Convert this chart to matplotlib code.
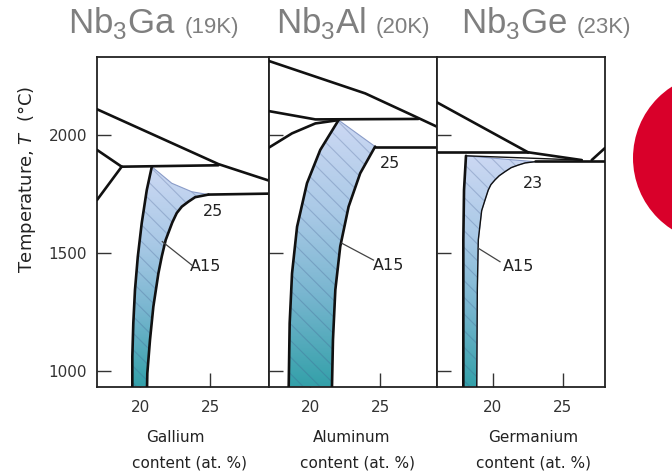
import numpy as np
import matplotlib
matplotlib.use('Agg')
import matplotlib.pyplot as plt
from matplotlib.patches import Polygon, Circle
from matplotlib.colors import LinearSegmentedColormap

plt.rcParams['font.family'] = ['DejaVu Sans']
plt.rcParams['mathtext.fontset'] = 'custom'
plt.rcParams['mathtext.rm'] = 'Liberation Sans'
plt.rcParams['mathtext.it'] = 'DejaVu Sans:italic'
plt.rcParams['hatch.linewidth'] = 0.8

# ---------------- data ----------------
compounds = ['Nb$_3$Ga', 'Nb$_3$Al', 'Nb$_3$Ge']
tc_labels = ['(19K)', '(20K)', '(23K)']
elements = ['Gallium', 'Aluminum', 'Germanium']
tc_values = ['25', '25', '23']
yticks = [1000, 1500, 2000]
xticks = [20, 25]
xlims = [(16.93, 29.2), (17.04, 29.07), (16.0, 28.0)]
ylim = (934, 2330)

# A15 phase field boundaries (composition at.%, temperature C)
ga_left_c = [20.84, 20.48, 20.12, 19.84, 19.64, 19.52, 19.45, 19.45]
ga_left_T = [1866, 1767, 1627, 1485, 1345, 1204, 1063, 934]
ga_right_c = [24.88, 23.93, 23.45, 22.98, 22.62, 22.3, 21.83, 21.55, 21.31, 20.95, 20.71, 20.52, 20.5]
ga_right_T = [1748, 1737, 1718, 1697, 1670, 1630, 1556, 1486, 1415, 1274, 1133, 992, 934]
ga_top_c = [20.84, 22.26, 23.69, 24.88]
ga_top_T = [1866, 1796, 1760, 1748]

al_left_c = [22.02, 20.71, 19.76, 19.05, 18.69, 18.52, 18.45]
al_left_T = [2063, 1937, 1796, 1612, 1415, 1204, 934]
al_right_c = [24.64, 23.57, 22.74, 22.14, 21.79, 21.62, 21.55]
al_right_T = [1951, 1838, 1697, 1528, 1345, 1133, 934]
al_top_c = [22.02, 24.64]
al_top_T = [2063, 1951]

ge_left_c = [18.07, 17.93, 17.88, 17.88, 17.88]
ge_left_T = [1912, 1767, 1556, 1274, 934]
ge_right_c = [23.0, 22.3, 21.81, 21.3, 20.86, 20.45, 20.14, 19.85, 19.66, 19.43, 19.19, 18.95, 18.88, 18.84]
ge_right_T = [1887, 1882, 1873, 1862, 1845, 1828, 1810, 1790, 1767, 1725, 1680, 1556, 1345, 934]
ge_top_c = [18.07, 20.62, 23.0]
ge_top_T = [1912, 1899, 1887]

# other phase boundaries
ga_lines = [
    ([16.93, 25.59, 29.2], [2109, 1877, 1807]),
    ([16.93, 18.69], [1937, 1866]),
    ([18.69, 25.59], [1866, 1872]),
    ([18.69, 16.93], [1866, 1725]),
    ([24.88, 29.2], [1748, 1752]),
]
al_lines = [
    ([17.04, 23.93, 27.26, 29.07], [2313, 2176, 2085, 2035]),
    ([17.04, 20.36, 27.74], [2101, 2066, 2068]),
    ([17.04, 18.69, 20.36, 22.02], [1947, 2007, 2049, 2063]),
    ([24.64, 29.07], [1951, 1951]),
]
ge_lines = [
    ([16.0, 22.5], [2138, 1927]),
    ([16.0, 22.5], [1927, 1927]),
    ([22.5, 26.34], [1927, 1894]),
    ([23.0, 28.0], [1888, 1888]),
    ([27.05, 28.0], [1894, 1945]),
]
ge_thin = [([18.07, 26.34], [1912, 1894])]

tc_pos = [(25.24, 1676), (25.71, 1880), (22.88, 1796)]
a15_pos = [(24.64, 1443), (25.59, 1450), (21.81, 1443)]
leaders = [([21.59, 23.69], [1549, 1450]),
           ([22.26, 24.52], [1542, 1471]),
           ([18.95, 20.5], [1521, 1464])]

fields = [
    (ga_left_c, ga_left_T, ga_right_c, ga_right_T, ga_top_c, ga_top_T, ga_lines, [], 1.9),
    (al_left_c, al_left_T, al_right_c, al_right_T, al_top_c, al_top_T, al_lines, [], 1.9),
    (ge_left_c, ge_left_T, ge_right_c, ge_right_T, ge_top_c, ge_top_T, ge_lines, ge_thin, 1.0),
]

# ---------------- figure ----------------
W, H = 672, 472
fig = plt.figure(figsize=(W / 100, H / 100), dpi=100)
fig.patch.set_facecolor('white')

cmap = LinearSegmentedColormap.from_list(
    'a15', [(0.0, '#33a0a9'), (0.35, '#79b6d0'), (0.65, '#a9c9e6'), (1.0, '#ccd8f3')])

px_left = [97, 269, 437]
px_right = [269, 437, 605]
px_top, px_bot = 57, 387

for i in range(3):
    ax = fig.add_axes([px_left[i] / W, 1 - px_bot / H,
                       (px_right[i] - px_left[i]) / W, (px_bot - px_top) / H])
    ax.set_xlim(*xlims[i])
    ax.set_ylim(*ylim)
    ax.set_axisbelow(True)
    for s in ax.spines.values():
        s.set_linewidth(1.3)
        s.set_color('#222222')
    ax.set_xticks(xticks)
    ax.set_yticks(yticks)
    ax.tick_params(direction='in', length=10, width=1.0, color='#333333',
                   labelsize=11, labelcolor='#333333')
    ax.tick_params(axis='x', pad=9)
    ax.tick_params(axis='y', pad=7)
    if i > 0:
        ax.set_yticklabels([])

    lc, lT, rc, rT, tcc, tT, lines, thin, rlw = fields[i]
    poly_c = list(lc) + list(rc[::-1]) + list(tcc[::-1])
    poly_T = list(lT) + list(rT[::-1]) + list(tT[::-1])
    verts = np.column_stack([poly_c, poly_T])

    clip = Polygon(verts, closed=True, facecolor='none', edgecolor='none',
                   transform=ax.transData)
    ax.add_patch(clip)
    grad = np.linspace(0, 1, 256).reshape(-1, 1)
    im = ax.imshow(grad, cmap=cmap, origin='lower', aspect='auto',
                   extent=(min(poly_c), max(poly_c), ylim[0], max(poly_T)),
                   zorder=1, interpolation='bilinear')
    im.set_clip_path(clip)
    ax.set_xlim(*xlims[i])
    ax.set_ylim(*ylim)

    hatch = Polygon(verts, closed=True, facecolor='none',
                    edgecolor=(0.25, 0.35, 0.55, 0.28), hatch='\\\\', linewidth=0,
                    zorder=1.5)
    ax.add_patch(hatch)
    outline = Polygon(verts, closed=True, fill=False, edgecolor='#8a9cc8',
                      linewidth=0.8, zorder=1.6)
    ax.add_patch(outline)

    ax.plot(lc, lT, color='#111111', lw=1.9, solid_capstyle='round', zorder=3)
    ax.plot(rc, rT, color='#111111', lw=rlw, solid_capstyle='round', zorder=3)
    for xs, ys in lines:
        ax.plot(xs, ys, color='#111111', lw=1.9, solid_capstyle='round', zorder=3)
    for xs, ys in thin:
        ax.plot(xs, ys, color='#111111', lw=1.0, zorder=3)

    ax.text(*tc_pos[i], tc_values[i], fontsize=11.5, ha='center', va='center',
            color='#222222')
    ax.text(*a15_pos[i], 'A15', fontsize=11.5, ha='center', va='center',
            color='#222222')
    ax.plot(*leaders[i], color='#444444', lw=0.9, zorder=3)

# titles (each group centred over its target centre)
renderer = fig.canvas.get_renderer()
title_centres = [154, 353, 546]
gap = 9
for i in range(3):
    t1 = fig.text(0, 1 - 33 / H, compounds[i], fontsize=25,
                  color='#7f7f7f', ha='left', va='baseline', family='Liberation Sans')
    t2 = fig.text(0, 1 - 33 / H, tc_labels[i], fontsize=16,
                  color='#7f7f7f', ha='left', va='baseline', family='Liberation Sans')
    w1 = t1.get_window_extent(renderer).width
    w2 = t2.get_window_extent(renderer).width
    x0 = title_centres[i] - (w1 + gap + w2) / 2
    t1.set_x(x0 / W)
    t2.set_x((x0 + w1 + gap) / W)

# bottom labels
elem_x = [175, 352, 533]
cont_x = [190, 357, 533]
for i in range(3):
    fig.text(elem_x[i] / W, 1 - 438 / H, elements[i], fontsize=11, ha='center',
             va='center', color='#222222')
    fig.text(cont_x[i] / W, 1 - 463 / H, 'content (at. %)', fontsize=11,
             ha='center', va='center', color='#222222')

# y label
fig.text(27 / W, 1 - 179 / H, 'Temperature, $\\it{T}$  (°C)', rotation=90,
         fontsize=13, ha='center', va='center', color='#222222')

# decorative red circle at the right edge
ov = fig.add_axes([0, 0, 1, 1], zorder=-1)
ov.set_xlim(0, W)
ov.set_ylim(H, 0)
ov.axis('off')
ov.add_patch(Circle((718, 158), 85, facecolor='#d9002a', edgecolor='none'))

fig.savefig('out.png', dpi=100, facecolor='white')
